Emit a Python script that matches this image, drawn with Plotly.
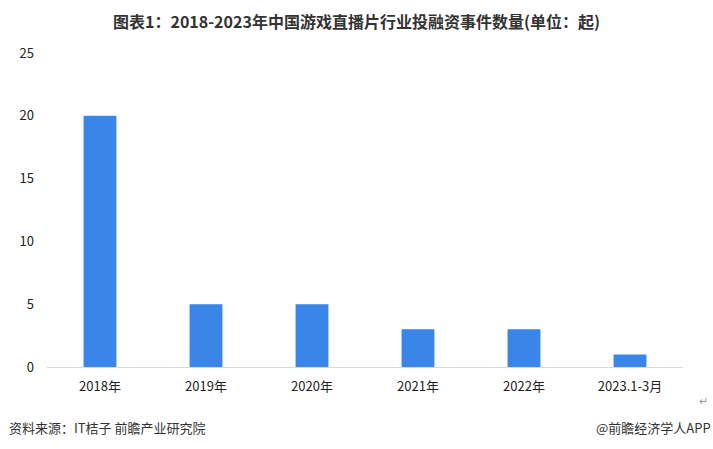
import plotly.graph_objects as go

categories = ["2018年", "2019年", "2020年", "2021年", "2022年", "2023.1-3月"]
values = [20, 5, 5, 3, 3, 1]
y_ticks = [0, 5, 10, 15, 20, 25]

FONT = "Noto Sans CJK SC"

fig = go.Figure(go.Bar(
    x=categories, y=values,
    marker=dict(color="#3a86e8", line=dict(width=0)),
    width=0.31,
))

fig.update_layout(
    width=713, height=449,
    margin=dict(l=47, r=30, t=53, b=82),
    paper_bgcolor="white", plot_bgcolor="white",
    font=dict(family=FONT, size=13, color="#222222"),
    showlegend=False,
    title=dict(
        text="<b>图表1：2018-2023年中国游戏直播片行业投融资事件数量(单位：起)</b>",
        x=0.5, xanchor="center", y=0.951, yanchor="middle",
        font=dict(family=FONT, size=16, color="#333333"),
    ),
    xaxis=dict(
        showline=True, linecolor="#d9d9d9", linewidth=1,
        ticks="", tickfont=dict(size=13, color="#222222"),
        showgrid=False, ticklabelstandoff=7,
    ),
    yaxis=dict(
        range=[0, 25], tickvals=y_ticks, showgrid=False, zeroline=False,
        showline=False, ticks="", ticklabelstandoff=12,
        tickfont=dict(size=13, color="#222222"),
    ),
    annotations=[
        dict(text="资料来源：IT桔子 前瞻产业研究院", xref="paper", yref="paper",
             x=-40/636, y=-60/314, xanchor="left", yanchor="middle", showarrow=False,
             font=dict(family=FONT, size=13, color="#333333")),
        dict(text="@前瞻经济学人APP", xref="paper", yref="paper",
             x=(713-47)/636, y=-60/314, xanchor="right", yanchor="middle", showarrow=False,
             font=dict(family=FONT, size=13, color="#333333")),
        dict(text="↵", xref="paper", yref="paper",
             x=(703-47)/636, y=-33/314, xanchor="center", yanchor="middle", showarrow=False,
             font=dict(family=FONT, size=11, color="#999999")),
    ],
)

fig.write_html("out.html", config={"displayModeBar": False},
               post_script="document.body.style.margin='0';")
